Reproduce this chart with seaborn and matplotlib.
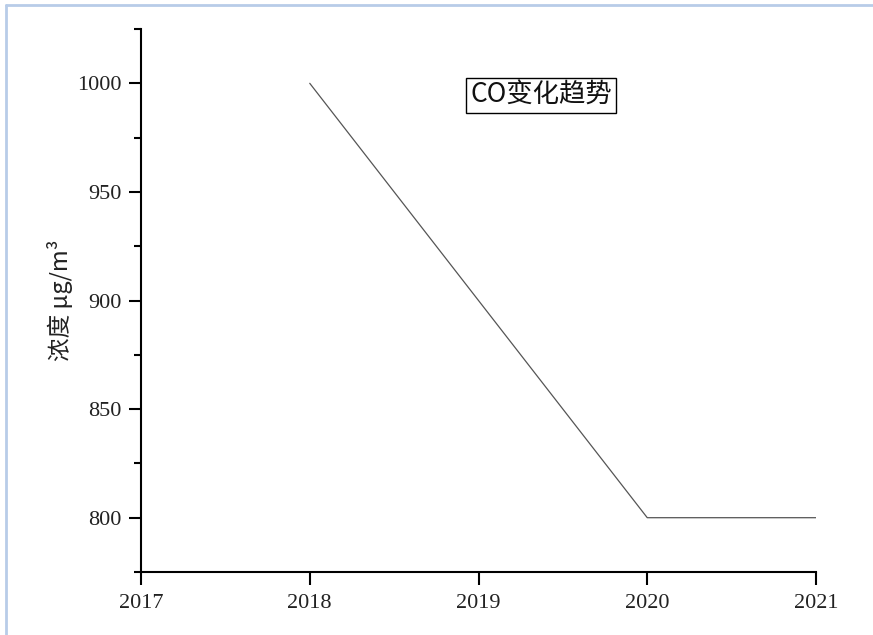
import matplotlib
matplotlib.use("Agg")
import matplotlib.pyplot as plt
import seaborn as sns
import pandas as pd
from matplotlib.ticker import MultipleLocator
from matplotlib.lines import Line2D

years = [2018, 2019, 2020, 2021]
co_values = [1000, 900, 800, 800]
x_ticks = [2017, 2018, 2019, 2020, 2021]
y_ticks = [800, 850, 900, 950, 1000]
title_text = "CO变化趋势"
y_label = "浓度 μg/m³"

sns.set_theme(style="ticks")
plt.rcParams['font.family'] = ['Liberation Serif', 'Noto Sans CJK SC', 'DejaVu Sans']

df = pd.DataFrame({"year": years, "co": co_values})

fig = plt.figure(figsize=(8.73, 6.35), dpi=100)
ax = fig.add_axes([141/873, 1 - 572/635, (816-141)/873, (572-29)/635])

sns.lineplot(data=df, x="year", y="co", ax=ax, color="#555555", linewidth=0.9)

ax.set_xlim(2017, 2021)
ax.set_ylim(775, 1025)
ax.set_xticks(x_ticks)
ax.set_xticklabels([str(t) for t in x_ticks])
ax.set_yticks(y_ticks)
ax.set_yticklabels([str(t) for t in y_ticks])
ax.yaxis.set_minor_locator(MultipleLocator(25))

for side in ["top", "right"]:
    ax.spines[side].set_visible(False)
for side in ["left", "bottom"]:
    ax.spines[side].set_linewidth(1.5)
    ax.spines[side].set_color("black")

ax.tick_params(axis="both", which="major", direction="out", length=9, width=1.5,
               labelsize=16, colors="black", pad=5)
ax.tick_params(axis="x", which="major", pad=7)
ax.tick_params(axis="y", which="minor", direction="out", length=5, width=1.5, colors="black")
for lab in ax.get_xticklabels() + ax.get_yticklabels():
    lab.set_color("#222222")

ax.set_xlabel("")
ax.set_ylabel(y_label, fontsize=17, family=['Noto Sans CJK SC', 'DejaVu Sans'],
              color="#222222", labelpad=3)

ax.text(0.5926, 0.878, title_text, transform=ax.transAxes, ha="center", va="center",
        fontsize=19, family=['Noto Sans CJK SC', 'DejaVu Sans'], color="#111111",
        bbox=dict(boxstyle="square,pad=0.15", facecolor="white", edgecolor="black", linewidth=1.0))

# light blue frame lines along the top and left edges
border_color = "#b8cce8"
fig.add_artist(Line2D([5.5/873, 5.5/873], [0, 1 - 4.5/635], transform=fig.transFigure,
                      color=border_color, linewidth=2))
fig.add_artist(Line2D([5.5/873, 1], [1 - 4.5/635, 1 - 4.5/635], transform=fig.transFigure,
                      color=border_color, linewidth=2))

fig.savefig("out.png", dpi=100)
